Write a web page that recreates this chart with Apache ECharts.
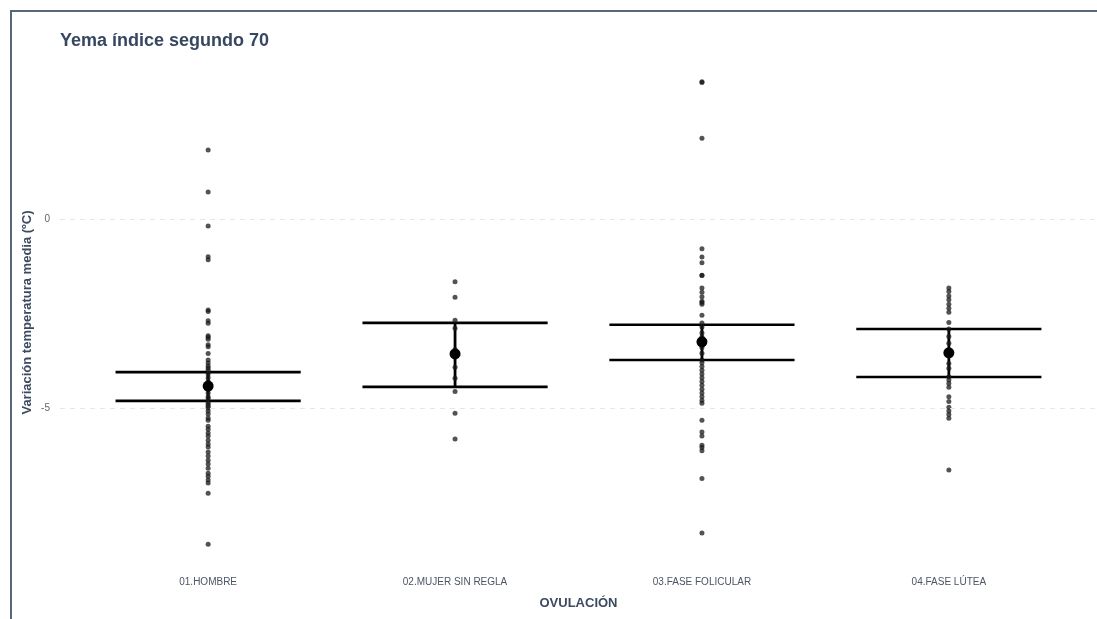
<!DOCTYPE html>
<html><head><meta charset="utf-8">
<script src="https://cdn.jsdelivr.net/npm/echarts@6/dist/echarts.min.js"></script>
<style>
html,body{margin:0;padding:0;background:#fff;overflow:hidden}
#frame{position:absolute;left:10px;top:10px;width:1200px;height:700px;border-left:2px solid #5a667d;border-top:2px solid #5a667d;box-sizing:border-box}
#main{position:absolute;left:0;top:0;width:1097px;height:619px}
</style></head>
<body>
<div id="frame"></div>
<div id="main"></div>
<script>
const categories = ['01.HOMBRE','02.MUJER SIN REGLA','03.FASE FOLICULAR','04.FASE LÚTEA'];
const yTicks = [-5, 0];

const hombre = [1.82,0.71,-0.19,-1.0,-1.08,-2.41,-2.45,-2.69,-2.76,-3.09,-3.13,-3.18,-3.33,-3.38,-3.56,-3.73,-3.81,-3.89,-3.94,
  -4.0,-4.1,-4.2,-4.3,-4.35,-4.45,-4.5,-4.6,-4.7,-4.75,-4.85,-4.9,-4.95,
  -5.0,-5.08,-5.16,-5.26,-5.32,-5.48,-5.56,-5.66,-5.74,-5.85,-5.95,-6.03,-6.16,-6.27,-6.38,-6.48,-6.59,-6.72,-6.8,-6.9,-6.98,-7.25,-8.6];
const mujer = [-1.66,-2.07,-2.68,-2.89,-3.45,-3.6,-3.92,-4.21,-4.56,-5.14,-5.82];
const folicular = [3.6,3.62,2.13,-0.79,-1.01,-1.16,-1.49,-1.5,-1.83,-1.94,-2.06,-2.18,-2.21,-2.26,-2.55,-2.75,-2.86,-3.02,-3.12,-3.4,-3.55,
  -3.73,-3.8,-3.9,-4.0,-4.1,-4.2,-4.3,-4.4,-4.5,-4.6,-4.7,-4.8,-4.87,-5.32,-5.63,-5.74,-5.98,-6.04,-6.13,-6.86,-8.3];
const lutea = [-1.83,-1.92,-2.04,-2.14,-2.26,-2.36,-2.47,-2.74,-2.91,-3.11,-3.29,-3.82,-3.95,-4.17,-4.26,-4.35,-4.45,-4.7,-4.83,-4.98,-5.08,-5.17,-5.27,-6.64];

const means = [-4.42,-3.57,-3.25,-3.54];
const lowerCI = [-4.81,-4.44,-3.73,-4.18];
const upperCI = [-4.05,-2.75,-2.8,-2.91];

const groups = [hombre, mujer, folicular, lutea];
const pointData = [];
groups.forEach((g,i)=>g.forEach(v=>pointData.push([i+1, v])));
const meanData = means.map((m,i)=>[i+1, m]);
const ciData = means.map((m,i)=>[i+1, lowerCI[i], upperCI[i]]);

const chart = echarts.init(document.getElementById('main'));
chart.setOption({
  animation:false,
  backgroundColor:'transparent',
  title:{text:'Yema índice segundo 70',left:55,top:27,
    textStyle:{fontFamily:'Liberation Sans',fontSize:18,fontWeight:'bold',color:'#36475f'}},
  grid:{left:60,right:0,top:58,bottom:52},
  xAxis:{type:'value',min:0.4,max:4.6,
    name:'OVULACIÓN',nameLocation:'middle',nameGap:30,
    nameTextStyle:{fontFamily:'Liberation Sans',fontSize:13,fontWeight:'bold',color:'#3c4a60'},
    axisLine:{show:false},axisTick:{show:false},splitLine:{show:false},
    axisLabel:{customValues:[1,2,3,4],margin:10,fontFamily:'Liberation Sans',fontSize:10,color:'#4b5565',
      formatter:v=>categories[Math.round(v)-1]||''}},
  yAxis:{type:'value',min:-9.2,max:4.25,
    name:'Variación temperatura media (ºC)',nameLocation:'middle',nameRotate:90,nameGap:26,nameMoveOverlap:false,
    nameTextStyle:{fontFamily:'Liberation Sans',fontSize:13,fontWeight:'bold',color:'#3c4a60'},
    axisLine:{show:false},axisTick:{show:false},splitLine:{show:false},
    axisLabel:{customValues:yTicks,margin:10,fontFamily:'Liberation Sans',fontSize:10,color:'#666'}},
  series:[
    {type:'line',data:[],silent:true,
      markLine:{silent:true,symbol:'none',label:{show:false},
        lineStyle:{type:[5,5],color:'#e6e6e6',width:1},
        data:yTicks.map(t=>({yAxis:t}))}},
    {type:'scatter',data:pointData,symbolSize:5,silent:true,
      itemStyle:{color:'rgba(25,25,25,0.75)',opacity:1}},
    {type:'custom',data:ciData,silent:true,
      renderItem:(params,api)=>{
        const x=api.value(0), lo=api.value(1), hi=api.value(2);
        const pLo=api.coord([x,lo]), pHi=api.coord([x,hi]);
        const l1=api.coord([x-0.375,lo]), r1=api.coord([x+0.375,lo]);
        const l2=api.coord([x-0.375,hi]), r2=api.coord([x+0.375,hi]);
        const st={stroke:'#000',lineWidth:2.8};
        return {type:'group',children:[
          {type:'line',shape:{x1:pLo[0],y1:pLo[1],x2:pHi[0],y2:pHi[1]},style:st},
          {type:'line',shape:{x1:l1[0],y1:l1[1],x2:r1[0],y2:r1[1]},style:{stroke:'#000',lineWidth:2.6}},
          {type:'line',shape:{x1:l2[0],y1:l2[1],x2:r2[0],y2:r2[1]},style:{stroke:'#000',lineWidth:2.6}}
        ]};
      }},
    {type:'scatter',data:meanData,symbolSize:11,silent:true,itemStyle:{color:'#000',opacity:1},z:5}
  ]
});
</script>
</body></html>
